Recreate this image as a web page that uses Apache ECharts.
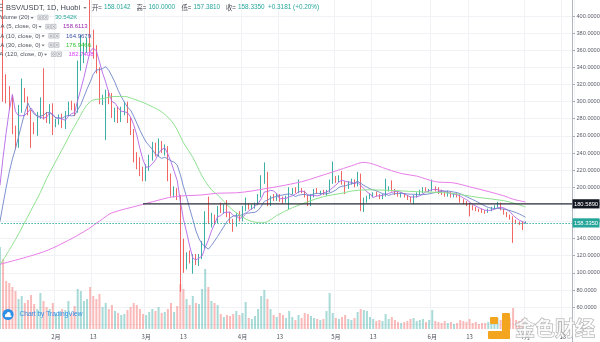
<!DOCTYPE html>
<html>
<head>
<meta charset="utf-8">
<script src="https://cdn.jsdelivr.net/npm/echarts/dist/echarts.min.js"></script>
<style>
html,body{margin:0;padding:0;background:#ffffff;}
#chart{width:600px;height:342px;}
</style>
</head>
<body>
<div id="chart"></div>
<script>
// ---- BSV/USDT daily candles, Huobi (14 Jan - 1 Jul) ----
const earlyCloses = [110,115,120,118,126,150,165,170,176];   // closes of the 9 days before the first candle (MA warm-up)

const opens = [
  168,350,314,309,301,268,249,291,308,304,
  287,272,266,284,299,282,278,293,274,277,
  282,272,286,297,292,289,343,352,365,370,
  364,361,337,300,305,311,300,285,290,278,
  291,297,279,265,234,230,218,212,223,236,
  248,241,251,244,246,212,195,197,189,124,
  108,121,115,118,113,119,133,166,160,166,
  160,176,172,178,168,161,156,168,164,176,
  179,176,178,181,190,207,216,181,188,186,
  191,186,184,188,195,197,195,197,194,190,
  180,190,197,193,194,193,195,206,210,208,
  212,205,200,205,207,203,214,182,186,188,
  191,193,190,188,190,197,199,196,193,190,
  192,190,187,184,190,193,196,198,196,197,
  199,198,194,193,191,194,190,191,190,184,
  182,181,177,176,174,173,172,171,174,176,
  177.719,181.2,174.3,170.1,166.5,164.5225,160.1046,158.5,158.1,158.0142
];
const highs = [
  440,425,332,318,306,272,296,327,316,306,
  290,276,288,305,339,288,297,298,280,285,
  286,289,300,301,298,348,378,369,375,425,
  384,366,340,308,314,313,310,293,294,294,
  300,300,282,268,241,235,224,227,238,253,
  252,257,254,250,248,216,201,199,191,140,
  124,126,122,122,122,137,172,189,170,168,
  178,182,180,185,171,163,170,172,178,188,
  181,180,182,192,214,229,218,190,192,193,
  192,189,190,200,199,200,209,199,196,191,
  192,198,199,196,197,197,209,230,213,214,
  219,207,207,210,209,218,216,188,190,193,
  194,195,192,192,210,201,208,198,195,194,
  193,191,189,191,194,197,200,200,198,209,
  201,200,197,195,196,195,193,193,191,186,
  184,182,179,177,175,175,173,175,177,179,
  183,182,175,171,168,166,162,160,160,160
];
const lows = [
  160,300,298,290,262,244,246,287,299,284,
  246,262,260,280,279,275,274,261,270,273,
  269,268,283,290,283,287,336,345,357,358,
  350,333,297,296,255,297,281,276,275,276,
  284,275,261,229,221,213,207,207,219,231,
  236,236,240,237,207,189,188,185,78,100,
  104,111,99,109,108,116,128,157,153,156,
  158,170,169,165,158,148,154,160,160,172,
  174,174,175,179,188,204,178,178,184,184,
  183,181,182,174,192,193,193,193,188,178,
  178,188,192,191,191,190,194,204,205,206,
  203,192,198,203,200,201,172,171,182,186,
  188,189,186,186,189,195,195,191,189,188,
  188,185,182,180,188,191,193,195,194,195,
  195,192,191,189,189,188,188,188,182,180,
  178,166,173,172,171,170,169,170,172,174,
  176,173,168,165,162,135,157,156,150,157.381
];
const closes = [
  350,314,309,301,268,249,291,308,304,287,
  272,266,284,299,282,278,293,274,277,282,
  272,286,297,292,289,343,352,365,370,364,
  361,337,300,305,311,300,285,290,278,291,
  297,279,265,234,230,218,212,223,236,248,
  241,251,244,246,212,195,197,189,124,108,
  121,115,118,113,119,133,166,160,166,160,
  176,172,178,168,161,156,168,164,176,179,
  176,178,181,190,207,216,181,188,186,191,
  186,184,188,195,197,195,197,194,190,180,
  190,197,193,194,193,195,206,210,208,212,
  205,200,205,207,203,214,182,186,188,191,
  193,190,188,190,197,199,196,193,190,192,
  190,187,184,190,193,196,198,196,197,199,
  198,194,193,191,194,190,191,190,184,182,
  181,177,176,174,173,172,171,174,176,177.719,
  181.2,174.3,170.1,166.5,164.5225,160.1046,158.5,158.1,158.0169,158.335
];
// daily volume, thousands
const volumes = [
  820,700,480,460,420,380,300,330,260,290,
  340,250,200,360,280,220,200,260,150,170,
  200,190,280,160,230,400,380,280,300,420,
  330,300,350,220,260,200,240,180,160,140,
  150,190,220,260,240,200,150,140,170,200,
  180,220,160,170,200,260,170,230,450,400,
  300,240,330,260,250,400,600,420,280,260,
  240,150,120,140,130,150,180,140,160,270,
  110,100,130,200,330,390,300,200,140,120,
  160,140,110,180,120,90,140,110,160,150,
  130,110,100,90,100,180,360,160,110,100,
  120,140,100,90,110,170,200,190,180,120,
  100,80,90,80,150,100,120,90,70,60,
  70,80,100,110,80,90,100,70,90,190,
  80,70,60,80,60,70,50,60,90,80,
  70,100,60,70,50,60,60,70,60,80,
  110,90,80,90,110,210,90,80,100,30.542
];
// longer averages, sampled along their curves (day index from first candle, value)
const ma30Days   = [0,5,10,13,15,20,25,29,33,37,40,43,46,49,52,55,57,59,62,65,68,70,74,78,81,84,86,89,94,99,104,110,113,118,124,134,145,154,162,166,169];
const ma30Values = [109,139,173,194,210,244,278,300,303.5,306,306,303,299,294,288,278,267,252,235,213,197,191,176,165,160,158.5,159.7,167,176,183,189,193,195.5,197,196.5,194.8,192.9,188,184.3,180.5,176.9466];
const ma120Days   = [0,11,17,27,33,36,45,49,56,65,70,76,86,97,102,108,113,117,120,123,129,134,140,146,151,157,162,165,169];
const ma120Values = [110,121,129,148,163,170,179,183,189,191,193,193.5,198.7,206.4,212,219,225,229,227,223,216,213,206.5,205,200.5,195,190,186,182.7408];

const rayLevel = 180.589;        // horizontal ray drawn on the chart
const rayStartDate = '2020-02-29';
const symbolTitle = 'BSV/USDT, 1D, Huobi';
const firstDay = Date.UTC(2020, 0, 14);
const axisDayCount = 185;        // time scale runs past the last candle

const UP = '#26a69a', DOWN = '#ef5350';
const FONT = '"Liberation Sans", Arial, sans-serif';
const CJK = '"Noto Sans CJK SC", sans-serif';

const dates = [];
for (let i = 0; i < axisDayCount; i++) {
  dates.push(new Date(firstDay + i * 86400000).toISOString().slice(0, 10));
}
const dayOf = v => +v.slice(8, 10);
const markDay = (idx, v) => dayOf(v) === 1 || dayOf(v) === 13;

function movingAverage(n) {
  const all = earlyCloses.concat(closes), off = earlyCloses.length;
  return closes.map((_, i) => {
    let s = 0;
    for (let k = 0; k < n; k++) s += all[off + i - k];
    return s / n;
  });
}
const ma5 = movingAverage(5), ma10 = movingAverage(10);
const candleData = closes.map((c, i) => [opens[i], c, lows[i], highs[i]]);
const volumeData = volumes.map((v, i) => ({
  value: v,
  itemStyle: { color: closes[i] >= opens[i] ? 'rgba(38,166,154,0.40)' : 'rgba(239,83,80,0.40)' }
}));

const gridL = -1.6, gridR = 26.25;
const chart = echarts.init(document.getElementById('chart'), null, { renderer: 'canvas' });

chart.setOption({
  animation: false,
  backgroundColor: '#ffffff',
  textStyle: { fontFamily: FONT },
  grid: [
    { left: gridL, right: gridR, top: -1.12, bottom: 17.8, containLabel: false, outerBoundsMode: 'none' },
    { left: gridL, right: gridR, top: 229, bottom: 13, containLabel: false, outerBoundsMode: 'none' }
  ],
  xAxis: [
    {
      type: 'category', gridIndex: 0, data: dates, boundaryGap: true,
      axisLine: { show: false }, axisTick: { show: false }, axisLabel: { show: false },
      splitLine: { show: true, interval: markDay, lineStyle: { color: '#f0f2f6', width: 1 } }
    },
    {
      type: 'category', gridIndex: 1, data: dates, boundaryGap: true,
      axisLine: { show: false }, axisTick: { show: false },
      axisLabel: {
        show: true, interval: markDay, margin: 5, fontSize: 6, color: '#50535e', fontFamily: CJK,
        formatter: v => dayOf(v) === 1 ? (+v.slice(5, 7)) + '月' : String(dayOf(v))
      },
      splitLine: { show: false }
    }
  ],
  yAxis: [
    {
      type: 'value', gridIndex: 0, position: 'right', min: 40, max: 420, interval: 20, scale: false,
      offset: -1.25,
      axisLine: { show: false },
      axisTick: { show: true, length: 2.5, lineStyle: { color: '#9598a1', width: 0.8 } },
      axisLabel: {
        show: true, margin: 4, fontSize: 5.6, color: '#5d606b', fontFamily: FONT,
        showMinLabel: false, showMaxLabel: false,
        formatter: v => v.toFixed(4)
      },
      splitLine: { show: true, lineStyle: { color: '#f0f2f6', width: 1 } }
    },
    { type: 'value', gridIndex: 1, min: 0, max: 1000, show: false }
  ],
  series: [
    {
      name: 'Volume', type: 'bar', xAxisIndex: 1, yAxisIndex: 1,
      data: volumeData, barWidth: 2, z: 1
    },
    {
      name: 'BSV/USDT', type: 'candlestick', xAxisIndex: 0, yAxisIndex: 0,
      data: candleData, barWidth: 1, z: 3,
      itemStyle: { color: UP, color0: DOWN, borderColor: UP, borderColor0: DOWN, borderWidth: 0.9 },
      markLine: {
        silent: true, symbol: ['none', 'none'], animation: false,
        label: { show: false },
        lineStyle: { color: UP, type: [1.5, 1.5], width: 1, opacity: 0.9 },
        data: [{ yAxis: closes[closes.length - 1] }]
      }
    },
    { name: 'MA5', type: 'line', data: ma5, showSymbol: false, z: 4, lineStyle: { color: '#b467e6', width: 0.9 } },
    { name: 'MA10', type: 'line', data: ma10, showSymbol: false, z: 4, lineStyle: { color: '#6f86c9', width: 0.9 } },
    { name: 'MA30', type: 'line', data: ma30Days.map((d, i) => [d, ma30Values[i]]), showSymbol: false, smooth: 0.35, z: 4, lineStyle: { color: '#8fe08f', width: 1 } },
    { name: 'MA120', type: 'line', data: ma120Days.map((d, i) => [d, ma120Values[i]]), showSymbol: false, smooth: 0.35, z: 4, lineStyle: { color: '#e77ee8', width: 1 } }
  ]
});

// ---- overlays: legend, price tags, horizontal ray, branding ----
const g = [];
const axisX = 572.5;
function text(x, y, s, fill, size, extra, z) {
  g.push({
    type: 'text', silent: true, z: z || 50,
    style: Object.assign({ x, y, text: s, fill, fontSize: size, fontFamily: FONT, textVerticalAlign: 'middle' }, extra || {})
  });
}
function caret(x, y) {
  g.push({ type: 'polygon', silent: true, z: 50, shape: { points: [[x - 1.6, y - 0.8], [x + 1.6, y - 0.8], [x, y + 1.2]] }, style: { fill: '#787b86' } });
}
function iconBoxes(x, y) {
  for (let k = 0; k < 2; k++) {
    const bx = x + k * 5.6;
    g.push({ type: 'rect', silent: true, z: 50, shape: { x: bx, y: y - 2.4, width: 4.6, height: 4.6 }, style: { fill: '#f2f3f5', stroke: '#a3a6af', lineWidth: 0.6 } });
  }
  g.push({ type: 'line', silent: true, z: 51, shape: { x1: x + 6.6, y1: y - 1.4, x2: x + 9.2, y2: y + 1.2 }, style: { stroke: '#8a8d96', lineWidth: 0.6 } });
  g.push({ type: 'line', silent: true, z: 51, shape: { x1: x + 9.2, y1: y - 1.4, x2: x + 6.6, y2: y + 1.2 }, style: { stroke: '#8a8d96', lineWidth: 0.6 } });
  g.push({ type: 'circle', silent: true, z: 51, shape: { cx: x + 2.3, cy: y, r: 1 }, style: { fill: 'none', stroke: '#8a8d96', lineWidth: 0.6 } });
}

// header line: symbol + last candle OHLC
const n = closes.length - 1;
const chg = closes[n] - closes[n - 1];
const chgPct = chg / closes[n - 1] * 100;
for (let k = 0; k < 3; k++) {
  g.push({ type: 'line', silent: true, z: 50, shape: { x1: -1, y1: 4.3 + k * 3.2, x2: 3, y2: 4.3 + k * 3.2 }, style: { stroke: '#6a6d78', lineWidth: 0.8 } });
}
text(6, 7.6, symbolTitle, '#434651', 7.5);
caret(85, 7.8);
const ohlc = [['开=', opens[n], 92], ['高=', highs[n], 136.5], ['低=', lows[n], 181.5], ['收=', closes[n], 226]];
ohlc.forEach(([lab, v, x]) => {
  text(x, 7.6, lab, '#434651', 6.3, { fontFamily: CJK });
  text(x + 12, 7.6, v.toFixed(4), UP, 6.4);
});
text(268, 7.6, (chg >= 0 ? '+' : '') + chg.toFixed(4) + ' (' + (chg >= 0 ? '+' : '') + chgPct.toFixed(2) + '%)', UP, 6.4);

// indicator rows
const rows = [
  { label: 'Volume (20)', end: 29.5, value: volumes[n].toFixed(3) + 'K', color: '#26a69a', y: 17.5 },
  { label: 'MA (5, close, 0)', end: 37.5, value: ma5[n].toFixed(4), color: '#9c27b0', y: 26.7 },
  { label: 'MA (10, close, 0)', end: 40.5, value: ma10[n].toFixed(4), color: '#3b4ea3', y: 35.9 },
  { label: 'MA (30, close, 0)', end: 40.5, value: ma30Values[ma30Values.length - 1].toFixed(4), color: '#2fc12f', y: 45.1 },
  { label: 'MA (120, close, 0)', end: 43, value: ma120Values[ma120Values.length - 1].toFixed(4), color: '#e040fb', y: 54.3 }
];
rows.forEach(r => {
  text(r.end, r.y, r.label, '#50535e', 6, { textAlign: 'right' });
  caret(r.end + 2.6, r.y + 0.2);
  iconBoxes(r.end + 8.3, r.y);
  text(r.end + 25.5, r.y, r.value, r.color, 6);
});

// horizontal ray and price tags on the scale
const yRay = chart.convertToPixel({ yAxisIndex: 0 }, rayLevel);
const xRay = chart.convertToPixel({ xAxisIndex: 0 }, rayStartDate);
g.push({ type: 'line', silent: true, z: 40, shape: { x1: xRay, y1: yRay, x2: axisX, y2: yRay }, style: { stroke: '#2a2e39', lineWidth: 1.2 } });
const yLast = chart.convertToPixel({ yAxisIndex: 0 }, closes[n]);
function tag(y, fill, label) {
  g.push({ type: 'rect', silent: true, z: 60, shape: { x: axisX, y: y - 4.6, width: 27, height: 9.2 }, style: { fill } });
  text(axisX + 13.5, y + 0.2, label, '#ffffff', 5.8, { textAlign: 'center' }, 62);
}
tag(yRay, '#131722', rayLevel.toFixed(4));
tag(yLast, UP, closes[n].toFixed(4));

// price scale border
g.push({ type: 'line', silent: true, z: 45, shape: { x1: axisX, y1: 0, x2: axisX, y2: 342 }, style: { stroke: '#b2b5be', lineWidth: 1 } });

// "Chart by TradingView" badge
g.push({ type: 'circle', silent: true, z: 50, shape: { cx: 8, cy: 314.5, r: 5.6 }, style: { fill: '#2e8fe6' } });
g.push({ type: 'circle', silent: true, z: 51, shape: { cx: 6.6, cy: 315.4, r: 1.6 }, style: { fill: '#ffffff' } });
g.push({ type: 'circle', silent: true, z: 51, shape: { cx: 8.6, cy: 314.2, r: 2.1 }, style: { fill: '#ffffff' } });
g.push({ type: 'rect', silent: true, z: 51, shape: { x: 5.2, y: 315.4, width: 6.2, height: 1.7 }, style: { fill: '#ffffff' } });
text(19.5, 314.6, 'Chart by TradingView', '#2e8fe6', 6.6);

// site watermark
g.push({ type: 'rect', silent: true, z: 70, shape: { x: 490, y: 317, width: 8, height: 7, r: 1 }, style: { fill: '#f3a51f' } });
g.push({ type: 'rect', silent: true, z: 70, shape: { x: 502, y: 313, width: 8, height: 26, r: 1 }, style: { fill: '#f3a51f' } });
g.push({ type: 'rect', silent: true, z: 70, shape: { x: 488, y: 331, width: 22, height: 8, r: 1 }, style: { fill: '#f3a51f' } });
text(515, 328, '金色财经', 'rgba(255,255,255,0.75)', 20, { fontFamily: CJK, fontWeight: 'bold', stroke: '#a9a9a9', lineWidth: 1 }, 71);

chart.setOption({ graphic: { elements: g } });
</script>
</body>
</html>
